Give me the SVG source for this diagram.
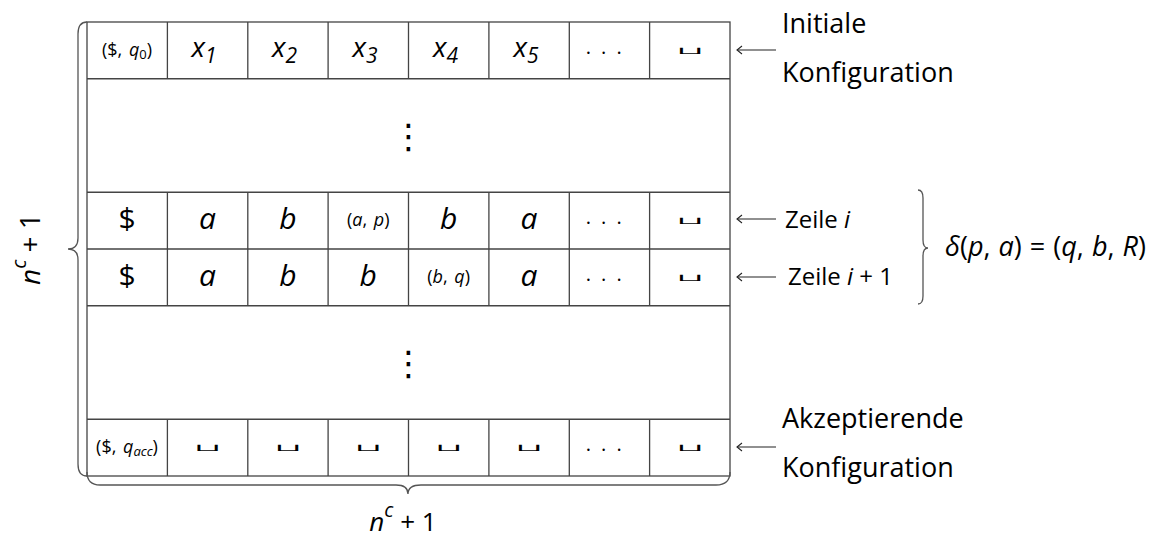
<svg xmlns="http://www.w3.org/2000/svg" width="1153" height="538" viewBox="0 0 1153 538">
<style>
.t{font-family:"Open Sans","Liberation Sans",sans-serif;fill:#000}
.m{font-family:"Open Sans","Liberation Sans",sans-serif;font-style:italic;fill:#000}
.big{font-size:30px}
.mid{font-size:28px}
.sm{font-size:18px;word-spacing:2px}
.lbl{font-size:27px}
.row{font-size:24px}
.box{font-family:"DejaVu Sans",sans-serif;font-size:20px}
.dots{font-family:"Open Sans",sans-serif;font-size:20px;letter-spacing:2.5px}
.vd{font-family:"DejaVu Sans",sans-serif;font-size:34px}
.ln{stroke:#444;stroke-width:1.3;fill:none}
.br{stroke:#555;stroke-width:1.3;fill:none}
.ar{stroke:#222;stroke-width:1.1;fill:none}
</style>
<defs>
<marker id="ah" markerWidth="8" markerHeight="10" refX="6" refY="5" orient="auto" markerUnits="userSpaceOnUse">
<path d="M1,1 L6,5 L1,9" stroke="#222" stroke-width="1.1" fill="none"/>
</marker>
</defs>

<g id="table">
<rect x="87" y="22" width="643" height="454" class="ln"/>
<path class="ln" d="M87,78.75H730 M87,192.25H730 M87,249H730 M87,305.75H730 M87,419.25H730"/>
<path class="ln" d="M167.4,22V78.75 M247.8,22V78.75 M328.1,22V78.75 M408.5,22V78.75 M488.9,22V78.75 M569.3,22V78.75 M649.6,22V78.75"/>
<path class="ln" d="M167.4,192.25V305.75 M247.8,192.25V305.75 M328.1,192.25V305.75 M408.5,192.25V305.75 M488.9,192.25V305.75 M569.3,192.25V305.75 M649.6,192.25V305.75"/>
<path class="ln" d="M167.4,419.25V476 M247.8,419.25V476 M328.1,419.25V476 M408.5,419.25V476 M488.9,419.25V476 M569.3,419.25V476 M649.6,419.25V476"/>
</g>

<g id="row-initial">
<text class="t sm" x="127" y="56" text-anchor="middle">($, <tspan class="m">q</tspan><tspan font-size="13" dy="3">0</tspan><tspan dy="-3">)</tspan></text>
<text class="m mid" x="204" y="57" text-anchor="middle">x<tspan class="t" font-size="21" dy="6">1</tspan></text>
<text class="m mid" x="284.5" y="57" text-anchor="middle">x<tspan class="t" font-size="21" dy="6">2</tspan></text>
<text class="m mid" x="365" y="57" text-anchor="middle">x<tspan class="t" font-size="21" dy="6">3</tspan></text>
<text class="m mid" x="445.5" y="57" text-anchor="middle">x<tspan class="t" font-size="21" dy="6">4</tspan></text>
<text class="m mid" x="526" y="57" text-anchor="middle">x<tspan class="t" font-size="21" dy="6">5</tspan></text>
<text class="dots" x="605" y="60" text-anchor="middle">· · ·</text>
<text class="box" transform="translate(689.8,53.5) scale(1.75,0.5)" text-anchor="middle">⊔</text>
</g>

<g id="vdots-top">
<text class="vd" x="408.5" y="148" text-anchor="middle">⋮</text>
</g>

<g id="row-i">
<text class="t big" x="127" y="229" text-anchor="middle">$</text>
<text class="m big" x="207.4" y="229" text-anchor="middle">a</text>
<text class="m big" x="287.8" y="229" text-anchor="middle">b</text>
<text class="t sm" x="368.2" y="226" text-anchor="middle">(<tspan class="m">a</tspan>, <tspan class="m">p</tspan>)</text>
<text class="m big" x="448.6" y="229" text-anchor="middle">b</text>
<text class="m big" x="529" y="229" text-anchor="middle">a</text>
<text class="dots" x="605" y="230" text-anchor="middle">· · ·</text>
<text class="box" transform="translate(689.8,224) scale(1.75,0.5)" text-anchor="middle">⊔</text>
</g>

<g id="row-i1">
<text class="t big" x="127" y="286" text-anchor="middle">$</text>
<text class="m big" x="207.4" y="286" text-anchor="middle">a</text>
<text class="m big" x="287.8" y="286" text-anchor="middle">b</text>
<text class="m big" x="368.2" y="286" text-anchor="middle">b</text>
<text class="t sm" x="448.6" y="283" text-anchor="middle">(<tspan class="m">b</tspan>, <tspan class="m">q</tspan>)</text>
<text class="m big" x="529" y="286" text-anchor="middle">a</text>
<text class="dots" x="605" y="287" text-anchor="middle">· · ·</text>
<text class="box" transform="translate(689.8,281) scale(1.75,0.5)" text-anchor="middle">⊔</text>
</g>

<g id="vdots-bottom">
<text class="vd" x="408.5" y="375" text-anchor="middle">⋮</text>
</g>

<g id="row-accept">
<text class="t sm" x="127" y="453" text-anchor="middle">($, <tspan class="m">q</tspan><tspan class="m" font-size="13" dy="3">acc</tspan><tspan dy="-3">)</tspan></text>
<text class="box" transform="translate(207.4,451) scale(1.75,0.5)" text-anchor="middle">⊔</text>
<text class="box" transform="translate(287.8,451) scale(1.75,0.5)" text-anchor="middle">⊔</text>
<text class="box" transform="translate(368.2,451) scale(1.75,0.5)" text-anchor="middle">⊔</text>
<text class="box" transform="translate(448.6,451) scale(1.75,0.5)" text-anchor="middle">⊔</text>
<text class="box" transform="translate(529,451) scale(1.75,0.5)" text-anchor="middle">⊔</text>
<text class="dots" x="605" y="457" text-anchor="middle">· · ·</text>
<text class="box" transform="translate(689.8,451) scale(1.75,0.5)" text-anchor="middle">⊔</text>
</g>

<g id="brace-left">
<path class="br" d="M87,22 Q78,22 78,34 L78,238 Q78,249 68,249 Q78,249 78,260 L78,464 Q78,476 87,476"/>
<text class="t mid" font-size="26" transform="translate(40,249) rotate(-90)" text-anchor="middle"><tspan class="m">n</tspan><tspan class="m" font-size="20" dy="-14">c</tspan><tspan dy="14"> + 1</tspan></text>
</g>

<g id="brace-bottom">
<path class="br" d="M87,472 Q87,485 100,485 L396,485 Q408,485 408,494 Q408,485 421,485 L716,485 Q730,485 730,472"/>
<text class="t" font-size="26" x="403" y="531" text-anchor="middle"><tspan class="m">n</tspan><tspan class="m" font-size="20" dy="-14">c</tspan><tspan dy="14"> + 1</tspan></text>
</g>

<g id="brace-right">
<path class="br" d="M918,190 Q923,190 923,198 L923,240 Q923,248 928,248 Q923,248 923,256 L923,296 Q923,304 918,304"/>
<text class="t" font-size="27" word-spacing="1" x="945" y="256"><tspan class="m">δ</tspan>(<tspan class="m">p</tspan>, <tspan class="m">a</tspan>) = (<tspan class="m">q</tspan>, <tspan class="m">b</tspan>, <tspan class="m">R</tspan>)</text>
</g>

<g id="label-initial">
<text class="t lbl" x="782" y="33">Initiale</text>
<text class="t lbl" x="782" y="82">Konfiguration</text>
</g>
<g id="label-zeile-i">
<text class="t row" x="785" y="228">Zeile <tspan class="m">i</tspan></text>
</g>
<g id="label-zeile-i1">
<text class="t row" x="788" y="285">Zeile <tspan class="m">i</tspan> + 1</text>
</g>
<g id="label-accept">
<text class="t lbl" x="782" y="428">Akzeptierende</text>
<text class="t lbl" x="782" y="477">Konfiguration</text>
</g>

<g id="connectors">
<line class="ar" x1="776" y1="50" x2="737" y2="50" marker-end="url(#ah)"/>
<line class="ar" x1="776" y1="219" x2="737" y2="219" marker-end="url(#ah)"/>
<line class="ar" x1="776" y1="277" x2="737" y2="277" marker-end="url(#ah)"/>
<line class="ar" x1="776" y1="447" x2="737" y2="447" marker-end="url(#ah)"/>
</g>
</svg>
